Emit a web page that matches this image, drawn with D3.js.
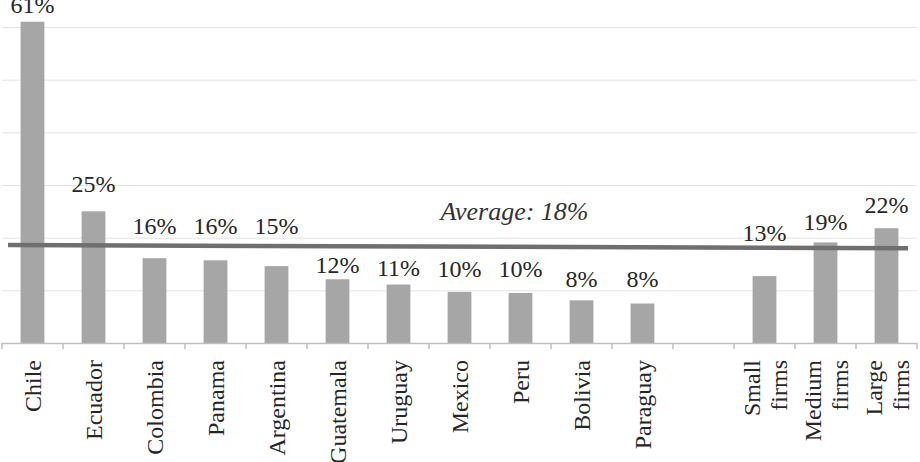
<!DOCTYPE html>
<html>
<head>
<meta charset="utf-8">
<script src="https://cdn.jsdelivr.net/npm/d3@7"></script>
<style>
  body { margin: 0; background: #fff; }
  .grid line { stroke: #e3e3e3; }
  .grid path { stroke: none; }
  text { font-family: "Liberation Serif", "Times New Roman", serif; fill: #262626; }
</style>
</head>
<body>
<div id="chartContainer"></div>
<script>
// categories (the empty one is the gap before the firm sizes)
var categories = ["Chile", "Ecuador", "Colombia", "Panama", "Argentina", "Guatemala", "Uruguay",
    "Mexico", "Peru", "Bolivia", "Paraguay", "", "Small firms", "Medium firms", "Large firms"];
// share in percent
var values = [61, 25, 16.1, 15.7, 14.6, 12.1, 11.1, 9.7, 9.5, 8.1, 7.5, null, 12.7, 19.1, 21.8];
// the printed labels and the level (in percent) where each one sits
var labels = ["61%", "25%", "16%", "16%", "15%", "12%", "11%", "10%", "10%", "8%", "8%", "", "13%", "19%", "22%"];
var labelAt = [62.6, 28.7, 20.7, 20.7, 20.7, 13.3, 12.7, 12.5, 12.5, 10.6, 10.6, null, 19.4, 21.4, 24.7];
// the average line, left end and right end
var average = 18;
var averageLine = [18.6, 18.0];
var yTicks = [10, 20, 30, 40, 50, 60];

var width = 920,
    height = 462;

var svg = d3.select("#chartContainer")
    .append("svg")
    .attr("width", width)
    .attr("height", height);

var x = d3.scaleBand()
    .domain(categories)
    .range([2, 917])
    .padding(0);

var y = d3.scaleLinear()
    .domain([0, 60])
    .range([343, 27]);

// gridlines
svg.append("g")
    .attr("class", "grid")
    .attr("transform", "translate(2,0)")
    .call(d3.axisLeft(y)
        .tickValues(yTicks)
        .tickSize(-915)
        .tickFormat("")
    );

// bars
var barW = x.bandwidth() * 0.39;
svg.selectAll(".bar")
    .data(categories.filter(function (d, i) { return values[i] != null; }))
    .enter()
    .append("rect")
    .attr("class", "bar")
    .attr("x", function (d) { return x(d) + x.bandwidth() / 2 - barW / 2; })
    .attr("y", function (d) { return y(values[categories.indexOf(d)]); })
    .attr("width", barW)
    .attr("height", function (d) { return y(0) - y(values[categories.indexOf(d)]); })
    .attr("fill", "#a6a6a6");

// x axis: line plus ticks on the band edges
var xAxis = svg.append("g");
xAxis.append("line")
    .attr("x1", x.range()[0])
    .attr("x2", x.range()[1])
    .attr("y1", y(0) + 0.5)
    .attr("y2", y(0) + 0.5)
    .attr("stroke", "#bfbfbf")
    .attr("stroke-width", 1.5);
xAxis.selectAll(".tick")
    .data(categories.concat(["end"]))
    .enter()
    .append("line")
    .attr("x1", function (d, i) { return i < categories.length ? x(d) : x.range()[1]; })
    .attr("x2", function (d, i) { return i < categories.length ? x(d) : x.range()[1]; })
    .attr("y1", y(0))
    .attr("y2", y(0) + 6)
    .attr("stroke", "#bfbfbf")
    .attr("stroke-width", 1.5);

// category labels, rotated, split on the space for the firm sizes
xAxis.selectAll(".cat")
    .data(categories)
    .enter()
    .append("text")
    .attr("class", "cat")
    .attr("text-anchor", "end")
    .style("font-size", "24px")
    .attr("transform", function (d) {
        return "translate(" + (x(d) + x.bandwidth() / 2) + ",360) rotate(-90)";
    })
    .each(function (d) {
        var parts = d.indexOf("firms") > -1 ? d.split(" ") : [d];
        var el = d3.select(this);
        parts.forEach(function (p, j) {
            var off = parts.length == 1 ? 0 : (j == 0 ? -13 : 14);
            el.append("tspan")
                .attr("x", 0)
                .attr("y", off)
                .attr("dy", "0.35em")
                .text(p);
        });
    });

// average line
svg.append("line")
    .attr("x1", x.range()[0] + 6)
    .attr("x2", x.range()[1] - 9)
    .attr("y1", y(averageLine[0]))
    .attr("y2", y(averageLine[1]))
    .attr("stroke", "#6f6f6f")
    .attr("stroke-width", 4.5);

svg.append("text")
    .attr("text-anchor", "middle")
    .attr("x", x("Peru") + x.bandwidth() / 2 - 6)
    .attr("y", y(average) - 28)
    .style("font-size", "26px")
    .style("font-style", "italic")
    .style("fill", "#333")
    .text("Average: " + average + "%");

// value labels
svg.selectAll(".vlabel")
    .data(categories.filter(function (d, i) { return values[i] != null; }))
    .enter()
    .append("text")
    .attr("class", "vlabel")
    .attr("text-anchor", "middle")
    .style("font-size", "24px")
    .attr("x", function (d) { return x(d) + x.bandwidth() / 2; })
    .attr("y", function (d) { return y(labelAt[categories.indexOf(d)]); })
    .text(function (d) { return labels[categories.indexOf(d)]; });
</script>
</body>
</html>
